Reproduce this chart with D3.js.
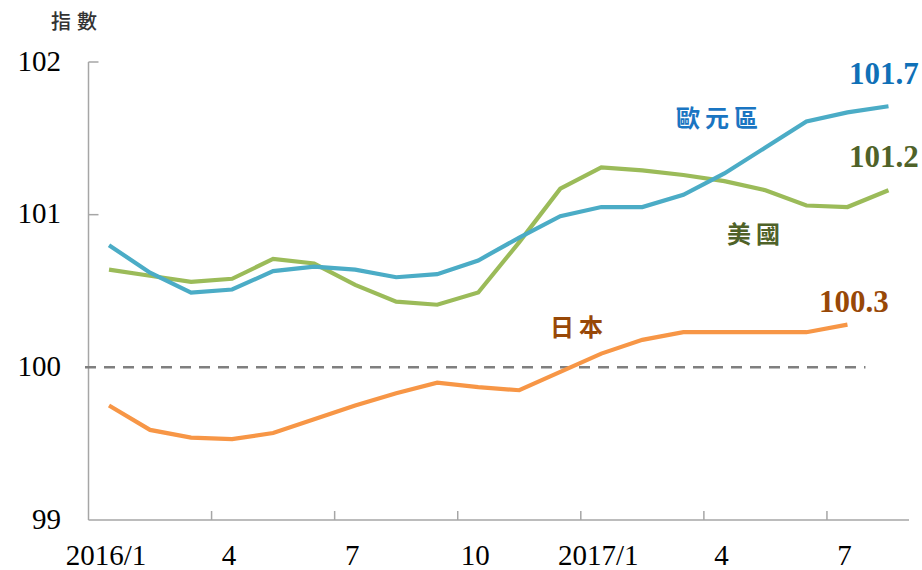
<!DOCTYPE html>
<html lang="zh-Hant">
<head>
    <meta charset="UTF-8">
    <title>核心物價指數</title>
    <script src="https://d3js.org/d3.v7.min.js"></script>
    <style>
        body { margin: 0; background: #fff; }
    </style>
</head>
<body>
    <svg width="922" height="570"></svg>
    <script>
        // months, 2016/1 .. 2017/8
        let months = ["2016-01", "2016-02", "2016-03", "2016-04", "2016-05", "2016-06", "2016-07", "2016-08", "2016-09", "2016-10",
            "2016-11", "2016-12", "2017-01", "2017-02", "2017-03", "2017-04", "2017-05", "2017-06", "2017-07", "2017-08"]
        let tickMonths = ["2016-01", "2016-04", "2016-07", "2016-10", "2017-01", "2017-04", "2017-07"]
        let tickLabels = ["2016/1", "4", "7", "10", "2017/1", "4", "7"]
        let yTicks = [99, 100, 101, 102]

        let euro = [100.80, 100.62, 100.49, 100.51, 100.63, 100.66, 100.64, 100.59, 100.61, 100.70,
            100.85, 100.99, 101.05, 101.05, 101.13, 101.27, 101.44, 101.61, 101.67, 101.71]
        let usa = [100.64, 100.60, 100.56, 100.58, 100.71, 100.68, 100.54, 100.43, 100.41, 100.49,
            100.82, 101.17, 101.31, 101.29, 101.26, 101.22, 101.16, 101.06, 101.05, 101.16]
        let japan = [99.75, 99.59, 99.54, 99.53, 99.57, 99.66, 99.75, 99.83, 99.90, 99.87,
            99.85, 99.97, 100.09, 100.18, 100.23, 100.23, 100.23, 100.23, 100.28]

        let svg = d3.select("svg")
        let x = d3.scaleBand().domain(months).range([88.5, 909])
        let y = d3.scaleLinear().domain([99, 102]).range([520, 62])
        let cx = function (m) { return x(m) + x.bandwidth() / 2 }

        let serif = "'Liberation Serif', 'Times New Roman', serif"
        let cjk = "'Noto Sans CJK TC', sans-serif"
        let axisColor = "#a6a6a6"

        // axes
        svg.append("line")
            .attr("x1", x.range()[0]).attr("x2", x.range()[0])
            .attr("y1", y(102)).attr("y2", y(99))
            .attr("stroke", axisColor).attr("stroke-width", 1.5)
        svg.append("line")
            .attr("x1", x.range()[0]).attr("x2", x.range()[1])
            .attr("y1", y(99)).attr("y2", y(99))
            .attr("stroke", axisColor).attr("stroke-width", 1.5)

        // y ticks point inward
        svg.selectAll(".ytick")
            .data(yTicks.filter(function (d) { return d > 100 }))
            .enter().append("line")
            .attr("x1", x.range()[0]).attr("x2", x.range()[0] + 10)
            .attr("y1", function (d) { return y(d) }).attr("y2", function (d) { return y(d) })
            .attr("stroke", axisColor).attr("stroke-width", 1.5)

        svg.selectAll(".ylabel")
            .data(yTicks)
            .enter().append("text")
            .attr("x", 61)
            .attr("y", function (d) { return y(d) })
            .attr("dy", "0.3em")
            .attr("text-anchor", "end")
            .style("font-family", serif)
            .style("font-size", "29px")
            .attr("fill", "#000")
            .text(function (d) { return d })

        // x ticks sit on band edges
        svg.selectAll(".xtick")
            .data(tickMonths.slice(1))
            .enter().append("line")
            .attr("x1", function (d) { return x(d) }).attr("x2", function (d) { return x(d) })
            .attr("y1", y(99)).attr("y2", y(99) - 9)
            .attr("stroke", axisColor).attr("stroke-width", 1.5)

        svg.selectAll(".xlabel")
            .data(tickMonths)
            .enter().append("text")
            .attr("x", function (d) { return cx(d) - 3 })
            .attr("y", 565)
            .attr("text-anchor", "middle")
            .style("font-family", serif)
            .style("font-size", "29px")
            .attr("fill", "#000")
            .text(function (d, i) { return tickLabels[i] })

        svg.append("text")
            .attr("x", 51).attr("y", 29)
            .style("font-family", cjk)
            .style("font-size", "20px")
            .style("font-weight", 500)
            .style("letter-spacing", "6px")
            .attr("fill", "#333")
            .text("指數")

        // reference line at 100
        svg.append("line")
            .attr("x1", 85).attr("x2", cx(months[18]) + 18)
            .attr("y1", y(100)).attr("y2", y(100))
            .attr("stroke", "#7f7f7f").attr("stroke-width", 2.5)
            .attr("stroke-dasharray", "11,8")

        let line = d3.line()
            .x(function (d, i) { return cx(months[i]) })
            .y(function (d) { return y(d) })

        let series = [
            { values: japan, color: "#f79646" },
            { values: usa, color: "#9bbb59" },
            { values: euro, color: "#4bacc6" }
        ]
        svg.selectAll(".series")
            .data(series)
            .enter().append("path")
            .attr("d", function (d) { return line(d.values) })
            .attr("fill", "none")
            .attr("stroke", function (d) { return d.color })
            .attr("stroke-width", 4.2)

        // names and end values
        let names = [
            { text: "歐元區", x: 676, y: 119, color: "#1a75c2" },
            { text: "美國", x: 727, y: 235, color: "#4f6228" },
            { text: "日本", x: 550, y: 328, color: "#984807" }
        ]
        svg.selectAll(".name")
            .data(names)
            .enter().append("text")
            .attr("x", function (d) { return d.x })
            .attr("y", function (d) { return d.y })
            .attr("dy", "0.35em")
            .style("font-family", cjk)
            .style("font-size", "24px")
            .style("font-weight", 700)
            .style("letter-spacing", "5px")
            .attr("fill", function (d) { return d.color })
            .text(function (d) { return d.text })

        let ends = [
            { text: "101.7", x: 849, y: 73, color: "#0f70b7" },
            { text: "101.2", x: 849, y: 156, color: "#4f6228" },
            { text: "100.3", x: 819, y: 301, color: "#984807" }
        ]
        svg.selectAll(".endval")
            .data(ends)
            .enter().append("text")
            .attr("x", function (d) { return d.x })
            .attr("y", function (d) { return d.y })
            .attr("dy", "0.35em")
            .style("font-family", serif)
            .style("font-size", "31px")
            .style("font-weight", "bold")
            .attr("fill", function (d) { return d.color })
            .text(function (d) { return d.text })
    </script>
</body>
</html>
